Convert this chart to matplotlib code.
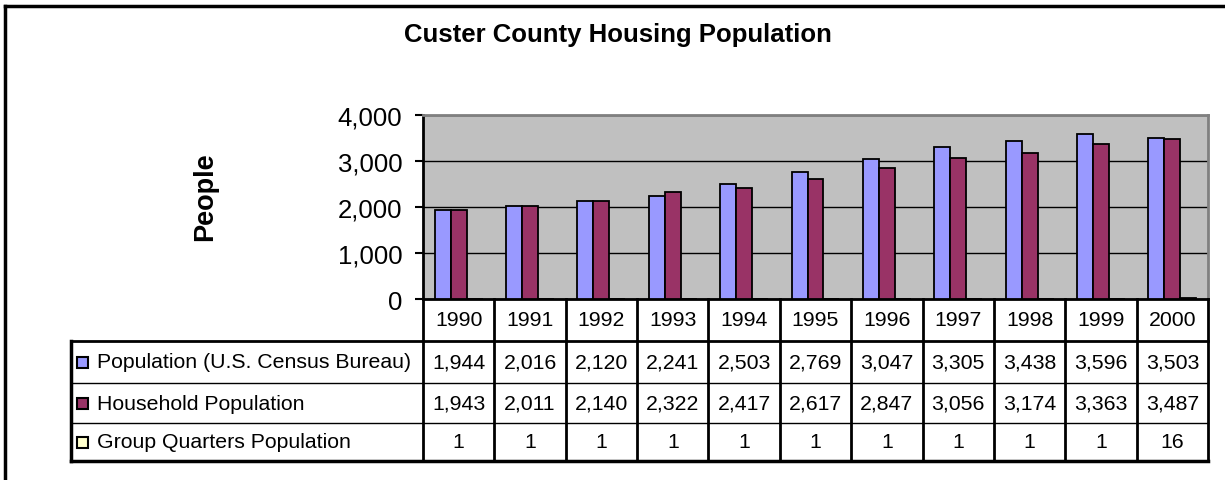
import numpy as np
import matplotlib
matplotlib.use('Agg')
import matplotlib.pyplot as plt
import matplotlib.transforms as mtransforms
from matplotlib.lines import Line2D
from matplotlib.patches import Rectangle

years = ['1990', '1991', '1992', '1993', '1994', '1995', '1996', '1997', '1998', '1999', '2000']
census_pop = [1944, 2016, 2120, 2241, 2503, 2769, 3047, 3305, 3438, 3596, 3503]
household_pop = [1943, 2011, 2140, 2322, 2417, 2617, 2847, 3056, 3174, 3363, 3487]
group_quarters = [1, 1, 1, 1, 1, 1, 1, 1, 1, 1, 16]
series_names = ['Population (U.S. Census Bureau)', 'Household Population', 'Group Quarters Population']
series_colors = ['#9999FF', '#993366', '#FFFFCC']
yticks = [0, 1000, 2000, 3000, 4000]

plt.rcParams['font.family'] = ['Liberation Sans', 'DejaVu Sans']

W, H = 1225, 481
fig = plt.figure(figsize=(W / 100, H / 100), dpi=100)


def fx(p):
    return p / W


def fy(p):
    return 1 - p / H


# plot area (pixel box 423..1208, 116..300)
ax = fig.add_axes([fx(423), fy(300), fx(1208 - 423), (300 - 116) / H])
ax.set_facecolor('#C0C0C0')

series = [census_pop, household_pop, group_quarters]
x = np.arange(len(years))
bw = 0.224
for i, vals in enumerate(series):
    ax.bar(x + (i - 1) * bw, vals, bw, color=series_colors[i], edgecolor='black', linewidth=1.3, zorder=3)

ax.set_xlim(-0.5, len(years) - 0.5)
ax.set_ylim(0, 4000)
ax.set_yticks(yticks)
ax.set_yticklabels(['{:,}'.format(v) for v in yticks])
ax.set_xticks([])
ax.yaxis.grid(True, color='black', linewidth=1)
ax.set_axisbelow(True)
ax.tick_params(axis='y', length=6, width=1.5, pad=9, labelsize=18.5)
for s in ['top', 'right']:
    ax.spines[s].set_color('#808080')
    ax.spines[s].set_linewidth(2)
for s in ['left', 'bottom']:
    ax.spines[s].set_color('black')
    ax.spines[s].set_linewidth(2)

fig.text(fx(618), fy(35), 'Custer County Housing Population', ha='center', va='center',
         fontsize=18.5, fontweight='bold')
fig.text(fx(205), fy(197), 'People', ha='center', va='center', rotation=90,
         fontsize=19.5, fontweight='bold')

# data table under the plot
tr = mtransforms.blended_transform_factory(ax.transData, fig.transFigure)
row_edges = [300, 342, 384, 424, 462]
left_px = 71
right = len(years) - 0.5
tsize = 15.3

for k in range(len(years) + 1):
    fig.add_artist(Line2D([k - 0.5, k - 0.5], [fy(300), fy(462)], transform=tr,
                          color='black', linewidth=2))

def hline(ypx, lw):
    # from the legend column to the right edge of the table
    xl = ax.transData.inverted().transform(fig.transFigure.transform((fx(left_px), 0)))[0]
    fig.add_artist(Line2D([xl, right], [fy(ypx), fy(ypx)], transform=tr,
                          color='black', linewidth=lw))

hline(342, 2)
hline(384, 1)
hline(424, 1)
hline(462, 2.5)
fig.add_artist(Line2D([fx(left_px), fx(left_px)], [fy(342), fy(462)], transform=fig.transFigure,
                      color='black', linewidth=2.5))

for j, yr in enumerate(years):
    fig.text(j, fy(321), yr, transform=tr, ha='center', va='center', fontsize=tsize)

for i, vals in enumerate(series):
    yc = (row_edges[i + 1] + row_edges[i + 2]) / 2
    fig.add_artist(Rectangle((fx(77), fy(yc + 5.5)), fx(11), 11 / H, transform=fig.transFigure,
                             facecolor=series_colors[i], edgecolor='black', linewidth=1.5))
    fig.text(fx(97), fy(yc), series_names[i], ha='left', va='center', fontsize=tsize)
    for j, v in enumerate(vals):
        fig.text(j, fy(yc), '{:,}'.format(v), transform=tr, ha='center', va='center', fontsize=tsize)

# outer chart frame
fig.add_artist(Line2D([fx(5), fx(5)], [fy(7), 0], transform=fig.transFigure, color='black', linewidth=2.5))
fig.add_artist(Line2D([fx(5), 1], [fy(7), fy(7)], transform=fig.transFigure, color='black', linewidth=2.5))

plt.savefig('out.png', dpi=100)
